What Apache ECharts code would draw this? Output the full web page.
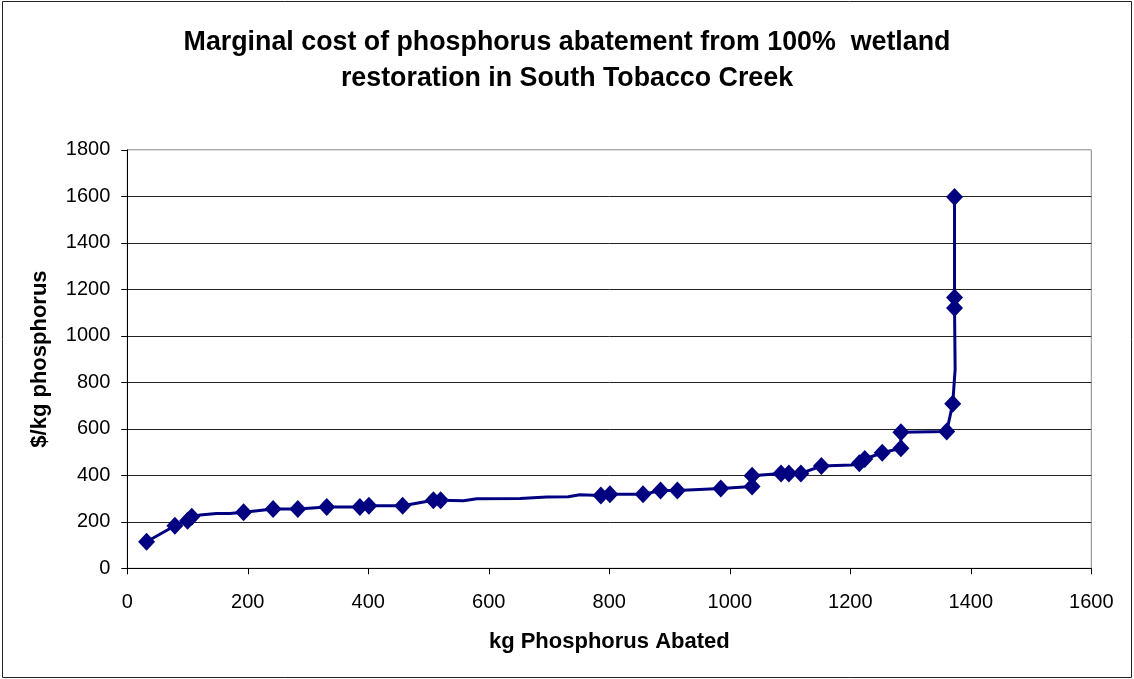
<!DOCTYPE html>
<html>
<head>
<meta charset="utf-8">
<script src="https://cdn.jsdelivr.net/npm/echarts/dist/echarts.min.js"></script>
<style>
html,body{margin:0;padding:0;background:#fff;}
#chart{width:1134px;height:679px;}
</style>
</head>
<body>
<div id="chart"></div>
<script>
// kg phosphorus abated (x) and marginal cost $/kg (y)
const abatedKg = [32, 79, 100, 107, 121, 148, 170, 193, 242, 283, 331, 386, 401, 457, 508, 520,
  558, 580, 652, 696, 732, 751, 786, 801, 856, 885, 913, 985, 1037, 1037, 1085, 1098, 1118, 1152,
  1202, 1215, 1224, 1253, 1284, 1284, 1360, 1370, 1374, 1373, 1373, 1373];
const costPerKg = [114, 183, 205, 222, 229, 236, 236, 241, 255, 255, 264, 264, 269, 269, 293, 293,
  291, 299, 300, 307, 308, 316, 313, 318, 318, 335, 335, 343, 352, 398, 408, 408, 408, 440,
  444, 452, 470, 497, 516, 585, 588, 708, 856, 1120, 1165, 1597];
// 1 = point drawn with a diamond marker, 0 = line vertex only
const markerShown = [1, 1, 1, 1, 0, 0, 0, 1, 1, 1, 1, 1, 1, 1, 1, 1,
  0, 0, 0, 0, 0, 0, 1, 1, 1, 1, 1, 1, 1, 1, 1, 1, 1, 1,
  0, 1, 1, 1, 1, 1, 1, 1, 0, 1, 1, 1];

const chartTitle = 'Marginal cost of phosphorus abatement from 100%  wetland\nrestoration in South Tobacco Creek';
const xAxisTitle = 'kg Phosphorus Abated';
const yAxisTitle = '$/kg phosphorus';

const linePts = abatedKg.map((x, i) => [x, costPerKg[i]]);
const markerPts = linePts.filter((p, i) => markerShown[i] === 1);

const FONT = "'Liberation Sans', Arial, sans-serif";
const NAVY = '#000080';

const chart = echarts.init(document.getElementById('chart'), null, {renderer: 'canvas'});
chart.setOption({
  animation: false,
  backgroundColor: '#fff',
  title: {
    text: chartTitle,
    left: 'center',
    top: 19,
    textStyle: {fontFamily: FONT, fontSize: 26.8, fontWeight: 'bold', color: '#000', lineHeight: 36.5}
  },
  grid: {
    left: 127.3, right: 42.7, top: 149.8, bottom: 110.7,
    show: true, borderColor: '#888', borderWidth: 1, backgroundColor: 'transparent'
  },
  xAxis: {
    type: 'value', min: 0, max: 1600, interval: 200,
    name: xAxisTitle, nameLocation: 'middle', nameGap: 63,
    nameTextStyle: {fontFamily: FONT, fontSize: 22, fontWeight: 'bold', color: '#000'},
    axisLine: {show: true, lineStyle: {color: '#000', width: 1}},
    axisTick: {show: true, inside: false, length: 6, lineStyle: {color: '#000'}},
    axisLabel: {fontFamily: FONT, fontSize: 20, color: '#000', margin: 24, formatter: v => String(v)},
    splitLine: {show: false}
  },
  yAxis: {
    type: 'value', min: 0, max: 1800, interval: 200,
    name: yAxisTitle, nameLocation: 'middle', nameGap: 76, nameRotate: 90,
    nameTextStyle: {fontFamily: FONT, fontSize: 22, fontWeight: 'bold', color: '#000'},
    axisLine: {show: true, lineStyle: {color: '#000', width: 1}},
    axisTick: {show: true, inside: false, length: 6, lineStyle: {color: '#000'}},
    axisLabel: {fontFamily: FONT, fontSize: 20, color: '#000', margin: 17, formatter: v => String(v)},
    splitLine: {show: true, showMinLine: false, showMaxLine: false, lineStyle: {color: '#222', width: 1}}
  },
  series: [
    {
      type: 'line',
      data: linePts,
      symbol: 'none',
      lineStyle: {color: NAVY, width: 3},
      z: 2
    },
    {
      type: 'scatter',
      data: markerPts,
      symbol: 'diamond',
      symbolSize: [17, 18],
      itemStyle: {color: NAVY, opacity: 1},
      z: 3
    }
  ],
  graphic: [{
    type: 'rect',
    shape: {x: 2.5, y: 1.5, width: 1129, height: 676},
    style: {fill: 'none', stroke: '#222', lineWidth: 1},
    silent: true
  }]
});
</script>
</body>
</html>
